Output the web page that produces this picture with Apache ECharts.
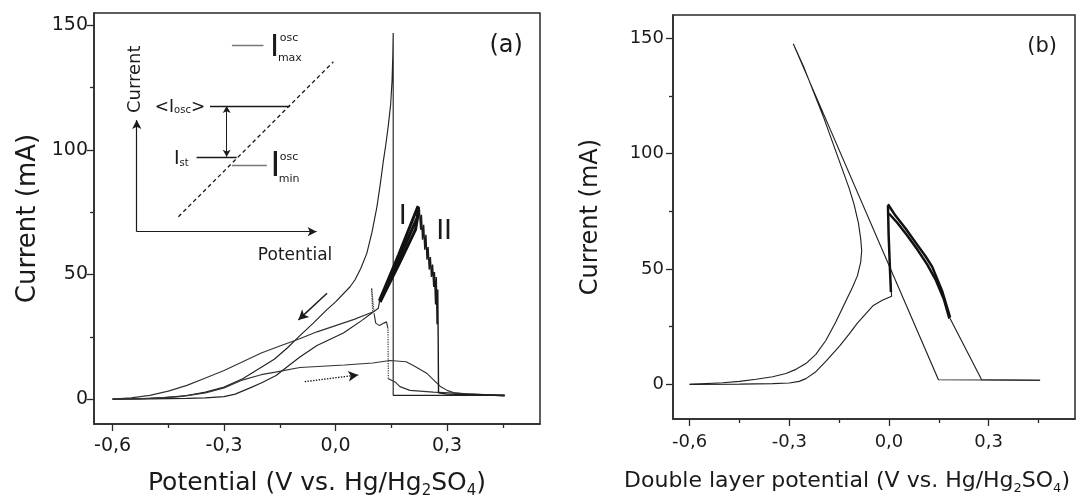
<!DOCTYPE html>
<html>
<head>
<meta charset="utf-8">
<script src="https://cdn.jsdelivr.net/npm/echarts@6/dist/echarts.min.js"></script>
<style>
  html, body { margin: 0; padding: 0; background: #fff; }
  #chart { width: 1080px; height: 501px; }
</style>
</head>
<body>
<div id="chart"></div>
<script>
// ---- axis ticks ----
const xMajorTicks = [-0.6, -0.3, 0, 0.3];
const xMinorTicks = [-0.45, -0.15, 0.15, 0.45];
const yMajorTicks = [0, 50, 100, 150];
const yMinorTicks = [25, 75, 125];

// ---- panel (a): current vs applied potential (V, mA) ----
// forward scan, solid curve, up to the start of oscillation branch I
const aForward = [[-0.6,0],[-0.5,0.1],[-0.4,0.3],[-0.35,0.5],[-0.3,1],[-0.27,2],[-0.23,4.5],[-0.2,6.5],
  [-0.16,9.5],[-0.13,13],[-0.096,16.9],[-0.05,21.5],[0.021,26.5],[0.07,31.5],[0.115,36.5],[0.118,39]];
// oscillating branch I (rising band)
const aBranchIa = [[0.118,39.5],[0.17,58],[0.222,77.5]];
const aBranchIb = [[0.12,39],[0.17,54],[0.215,68],[0.224,76]];
const aBranchIc = [[0.119,39],[0.17,56],[0.22,73],[0.223,77]];
// oscillating branch II (falling, noisy) and the drop to the passive current
const aBranchII = [[0.225,77],[0.229,68],[0.231,74],[0.234,64],[0.237,70],[0.240,60],[0.243,66],[0.246,56],
  [0.249,61],[0.252,52],[0.255,57],[0.258,49],[0.261,54],[0.264,45],[0.266,51],[0.269,38],[0.271,49],
  [0.273,30],[0.275,44],[0.276,25],[0.277,2.5],[0.3,2],[0.35,1.8],[0.455,1.6]];
// reverse scan, solid curve: passive plateau, activation spike, decay
const aReverse = [[0.455,1.5],[0.155,1.5],[0.155,147],[0.154,138],[0.152,128],[0.148,118],[0.142,110],
  [0.135,102],[0.128,95],[0.12,86],[0.111,77],[0.098,67],[0.084,58.5],[0.068,52.5],[0.052,47.8],
  [0.039,45.1],[0,39],[-0.024,35.8],[-0.06,30.5],[-0.096,25.5],[-0.13,20.5],[-0.165,16],[-0.203,12.5],
  [-0.25,8.2],[-0.3,4.8],[-0.35,2.8],[-0.4,1.4],[-0.46,0.6],[-0.52,0.2],[-0.6,0]];
// second record: forward scan
const aDotForward = [[-0.6,0],[-0.5,0.3],[-0.42,1],[-0.35,2.5],[-0.3,4.5],[-0.254,7.5],[-0.2,9.8],
  [-0.162,10.8],[-0.096,12.7],[0.024,13.7],[0.1,14.5],[0.146,15.5],[0.19,15],[0.215,13],[0.245,10.4],
  [0.265,7.5],[0.281,5.2],[0.3,3.5],[0.317,2.6],[0.35,2],[0.39,1.8],[0.455,1.5]];
// second record: reverse scan (solid pieces)
const aDotReverseTail = [[0.455,1.2],[0.389,1.9],[0.263,2.8],[0.2,3.5],[0.173,5],[0.16,6.9],[0.142,8.2]];
const aDotReverseWiggle = [[0.141,28.3],[0.137,31],[0.13,30.5],[0.118,29.5],[0.108,30.5],[0.104,34]];
const aDotReverseLow = [[0.1,35],[0.05,32],[0,29.5],[-0.05,27],[-0.1,24],[-0.15,21.3],[-0.2,18.5],
  [-0.25,15],[-0.3,11.5],[-0.35,8.5],[-0.4,5.5],[-0.45,3.2],[-0.5,1.5],[-0.55,0.5],[-0.6,0]];
// second record: fast jumps (dotted)
const aDotJump1 = [[0.142,8.2],[0.141,28.3]];
const aDotJump2 = [[0.104,34],[0.097,44.5],[0.099,37],[0.1,35]];
// scan direction arrows
const aArrowReverse = [[-0.023,42.5],[-0.1,31.8]];
const aArrowForward = [[-0.083,7],[0.061,9.7]];

// ---- inset sketch inside panel (a), in panel (a) units ----
const insetAxisY = [[-0.535,67.2],[-0.535,112]];
const insetAxisX = [[-0.535,67.2],[-0.051,67.2]];
const insetDiagonal = [[-0.423,73.2],[-0.006,135.4]];
const insetMean = [[-0.338,117.7],[-0.123,117.7]];
const insetSteady = [[-0.374,96.9],[-0.266,96.9]];
const insetMin = [[-0.279,93.7],[-0.185,93.7]];
const insetMax = [[-0.279,142.2],[-0.194,142.2]];
const insetSpan = [[-0.293,117.7],[-0.293,97.3]];

// ---- panel (b): current vs double layer potential ----
const bReverse = [[-0.6,0],[-0.5,0.7],[-0.45,1.3],[-0.4,2.2],[-0.35,3.3],[-0.31,4.7],[-0.28,6.5],
  [-0.25,9],[-0.22,13],[-0.19,19],[-0.16,27],[-0.13,36],[-0.11,42],[-0.095,47],[-0.085,53],[-0.082,58],
  [-0.085,63],[-0.092,70],[-0.105,78],[-0.12,85],[-0.14,93],[-0.165,103],[-0.195,115],[-0.225,126],
  [-0.255,137],[-0.288,147.5],[0.149,2],[0.455,1.8]];
const bForward = [[-0.6,0],[-0.45,0.1],[-0.35,0.3],[-0.3,0.6],[-0.27,1.3],[-0.25,2.5],[-0.22,5.5],
  [-0.19,10],[-0.165,14],[-0.147,16.9],[-0.12,21.8],[-0.095,26.5],[-0.07,30.5],[-0.047,34.2],
  [-0.02,36.4],[0.008,38.2],[0.005,45]];
const bJump = [[0.006,40],[0.003,50],[-0.001,65],[-0.003,77.5]];
const bBandUpper = [[-0.003,78],[0.02,73],[0.05,67.5],[0.08,61.5],[0.11,55.5],[0.13,51],[0.16,40.5],[0.184,29]];
const bBandLower = [[0.0,74],[0.025,70],[0.055,64.5],[0.085,58.5],[0.115,52],[0.14,45.5],[0.165,37],[0.182,28.5]];
const bTail = [[0.184,28.5],[0.279,2],[0.455,1.8]];

// ---- text ----
const aTitleX = 'Potential (V vs. Hg/Hg{s|2}SO{s|4})';
const bTitleX = 'Double layer potential (V vs. Hg/Hg{s|2}SO{s|4})';
const titleY = 'Current (mA)';

const FONT = 'DejaVu Sans';
const INK = '#1a1a1a';
const FRAME = '#2a2a2a';

const fmtX = v => (Math.round(v * 10) / 10).toFixed(1).replace('.', ',');

function mainX(grid, max, fs, titleText, titleSize, gap, lblMargin, titlePad) {
  return {
    type: 'value', gridIndex: grid, position: 'bottom', min: -0.65, max: max,
    name: titleText, nameLocation: 'middle', nameGap: gap,
    nameTextStyle: { fontFamily: FONT, fontSize: titleSize, color: INK, lineHeight: titleSize + 6,
      padding: titlePad || 0,
      rich: { s: { fontFamily: FONT, fontSize: Math.round(titleSize * 0.6), lineHeight: Math.round(titleSize * 0.62), verticalAlign: 'bottom', color: INK } } },
    axisLine: { show: true, onZero: false, lineStyle: { color: FRAME, width: 1.5 } },
    axisTick: { show: true, customValues: xMajorTicks, length: 7, lineStyle: { color: FRAME, width: 1.3 } },
    axisLabel: { show: true, customValues: xMajorTicks, formatter: fmtX, fontFamily: FONT, fontSize: fs, color: INK, margin: lblMargin },
    splitLine: { show: false }
  };
}
function minorX(grid, max) {
  return {
    type: 'value', gridIndex: grid, position: 'bottom', min: -0.65, max: max,
    axisLine: { show: false, onZero: false },
    axisTick: { show: true, customValues: xMinorTicks, length: 4, lineStyle: { color: FRAME, width: 1.3 } },
    axisLabel: { show: false }, splitLine: { show: false }
  };
}
function mainY(grid, min, max, fs, titleSize, gap, lblMargin) {
  return {
    type: 'value', gridIndex: grid, position: 'left', min: min, max: max,
    name: titleY, nameLocation: 'middle', nameGap: gap,
    nameTextStyle: { fontFamily: FONT, fontSize: titleSize, color: INK },
    axisLine: { show: true, onZero: false, lineStyle: { color: FRAME, width: 1.5 } },
    axisTick: { show: true, customValues: yMajorTicks, length: 7, lineStyle: { color: FRAME, width: 1.3 } },
    axisLabel: { show: true, customValues: yMajorTicks, fontFamily: FONT, fontSize: fs, color: INK, margin: lblMargin },
    splitLine: { show: false }
  };
}
function minorY(grid, min, max) {
  return {
    type: 'value', gridIndex: grid, position: 'left', min: min, max: max,
    axisLine: { show: false, onZero: false },
    axisTick: { show: true, customValues: yMinorTicks, length: 4, lineStyle: { color: FRAME, width: 1.3 } },
    axisLabel: { show: false }, splitLine: { show: false }
  };
}

function curve(data, axis, width, color, type) {
  return {
    type: 'line', xAxisIndex: axis, yAxisIndex: axis, data: data,
    symbol: 'none', showSymbol: false, silent: true, animation: false,
    lineStyle: { width: width, color: color || '#222', type: type || 'solid' }
  };
}

function seg(pts, opts) {
  const o = opts || {};
  return [
    { coord: pts[0], symbol: o.from || 'none', symbolSize: o.size || [7, 9],
      lineStyle: { color: o.color || INK, width: o.width || 1.2, type: o.type || 'solid' } },
    { coord: pts[1], symbol: o.to || 'none', symbolSize: o.size || [7, 9] }
  ];
}

function texts(axis, items) {
  return {
    type: 'scatter', xAxisIndex: axis, yAxisIndex: axis, silent: true, animation: false,
    symbolSize: 1, itemStyle: { color: 'rgba(0,0,0,0)', opacity: 1 },
    data: items.map(t => ({
      value: t.at,
      label: Object.assign({ show: true, position: 'inside', formatter: t.text, fontFamily: FONT,
        color: INK, opacity: 1, textBorderWidth: 0, fontSize: t.size, align: t.align || 'center',
        verticalAlign: 'middle', rotate: t.rotate || 0 }, t.rich ? { rich: t.rich } : {})
    }))
  };
}

const subStyle = { s: { fontFamily: FONT, fontSize: 10, lineHeight: 10, verticalAlign: 'bottom', color: INK } };

const chart = echarts.init(document.getElementById('chart'), null, { renderer: 'canvas' });

const option = {
  backgroundColor: '#fff',
  animation: false,
  grid: [
    { left: 94, right: 540, top: 13, bottom: 77, show: true, borderColor: FRAME, borderWidth: 1.5,
      containLabel: false, outerBoundsMode: 'none' },
    { left: 673, right: 5, top: 15, bottom: 82, show: true, borderColor: FRAME, borderWidth: 1.5,
      containLabel: false, outerBoundsMode: 'none' }
  ],
  xAxis: [
    mainX(0, 0.55, 19, aTitleX, 25, 44, 13),
    minorX(0, 0.55),
    mainX(1, 0.56, 18, bTitleX, 22, 48, 14, [0, 54, 0, 0]),
    minorX(1, 0.56)
  ],
  yAxis: [
    mainY(0, -10, 155, 19, 26, 53, 6),
    minorY(0, -10, 155),
    mainY(1, -15, 160, 18, 24, 70, 9),
    minorY(1, -15, 160)
  ],
  series: [
    // panel (a)
    curve(aForward, 0, 1.15),
    curve(aReverse, 0, 1.15),
    curve(aDotForward, 0, 1.15, '#333'),
    curve(aDotReverseTail, 0, 1.15, '#333'),
    curve(aDotReverseWiggle, 0, 1.15, '#333'),
    curve(aDotReverseLow, 0, 1.15, '#333'),
    curve(aDotJump1, 0, 1.2, '#333', 'dotted'),
    curve(aDotJump2, 0, 1.2, '#333', 'dotted'),
    curve(aBranchIa, 0, 3, '#111'),
    curve(aBranchIb, 0, 3, '#111'),
    curve(aBranchIc, 0, 3, '#111'),
    curve(aBranchII, 0, 1.4, '#1a1a1a'),
    {
      type: 'line', xAxisIndex: 0, yAxisIndex: 0, data: [], silent: true, animation: false,
      markLine: {
        silent: true, animation: false, label: { show: false }, emphasis: { disabled: true },
        data: [
          seg(aArrowReverse, { to: 'arrow', width: 1.4, size: [8, 10] }),
          seg(aArrowForward, { to: 'arrow', width: 1.4, type: 'dotted', size: [8, 10] }),
          seg(insetAxisY, { to: 'arrow', size: [7, 9] }),
          seg(insetAxisX, { to: 'arrow', size: [7, 9] }),
          seg(insetDiagonal, { type: [4, 3], width: 1.3 }),
          seg(insetMean, { width: 1.3 }),
          seg(insetSteady, { width: 1.3 }),
          seg(insetMin, { color: '#777', width: 1.3 }),
          seg(insetMax, { color: '#777', width: 1.3 }),
          seg(insetSpan, { from: 'arrow', to: 'arrow', size: [6, 7], width: 1 })
        ]
      }
    },
    texts(0, [
      { text: '(a)', at: [0.459, 141.8], size: 24 },
      { text: 'I', at: [0.181, 73.1], size: 27 },
      { text: 'II', at: [0.292, 67.1], size: 27 },
      { text: 'Current', at: [-0.538, 128.4], size: 18, rotate: 90 },
      { text: 'Potential', at: [-0.109, 57.6], size: 17 },
      { text: '<I{s|osc}>', at: [-0.351, 117.1], size: 17, align: 'right', rich: subStyle },
      { text: 'I{s|st}', at: [-0.435, 96.4], size: 19, align: 'left', rich: subStyle },
      { text: 'I', at: [-0.164, 140.9], size: 31 },
      { text: 'osc', at: [-0.125, 145.0], size: 11 },
      { text: 'max', at: [-0.123, 136.8], size: 11 },
      { text: 'I', at: [-0.162, 93.0], size: 33 },
      { text: 'osc', at: [-0.125, 97.3], size: 11 },
      { text: 'min', at: [-0.125, 88.4], size: 11 }
    ]),
    // panel (b)
    curve(bReverse, 2, 1.15),
    curve(bForward, 2, 1.15),
    curve(bJump, 2, 2.5, '#111'),
    curve(bBandUpper, 2, 2.5, '#111'),
    curve(bBandLower, 2, 2.5, '#111'),
    curve(bTail, 2, 1.15),
    texts(2, [
      { text: '(b)', at: [0.461, 146.3], size: 21 }
    ])
  ]
};

chart.setOption(option);
</script>
</body>
</html>
